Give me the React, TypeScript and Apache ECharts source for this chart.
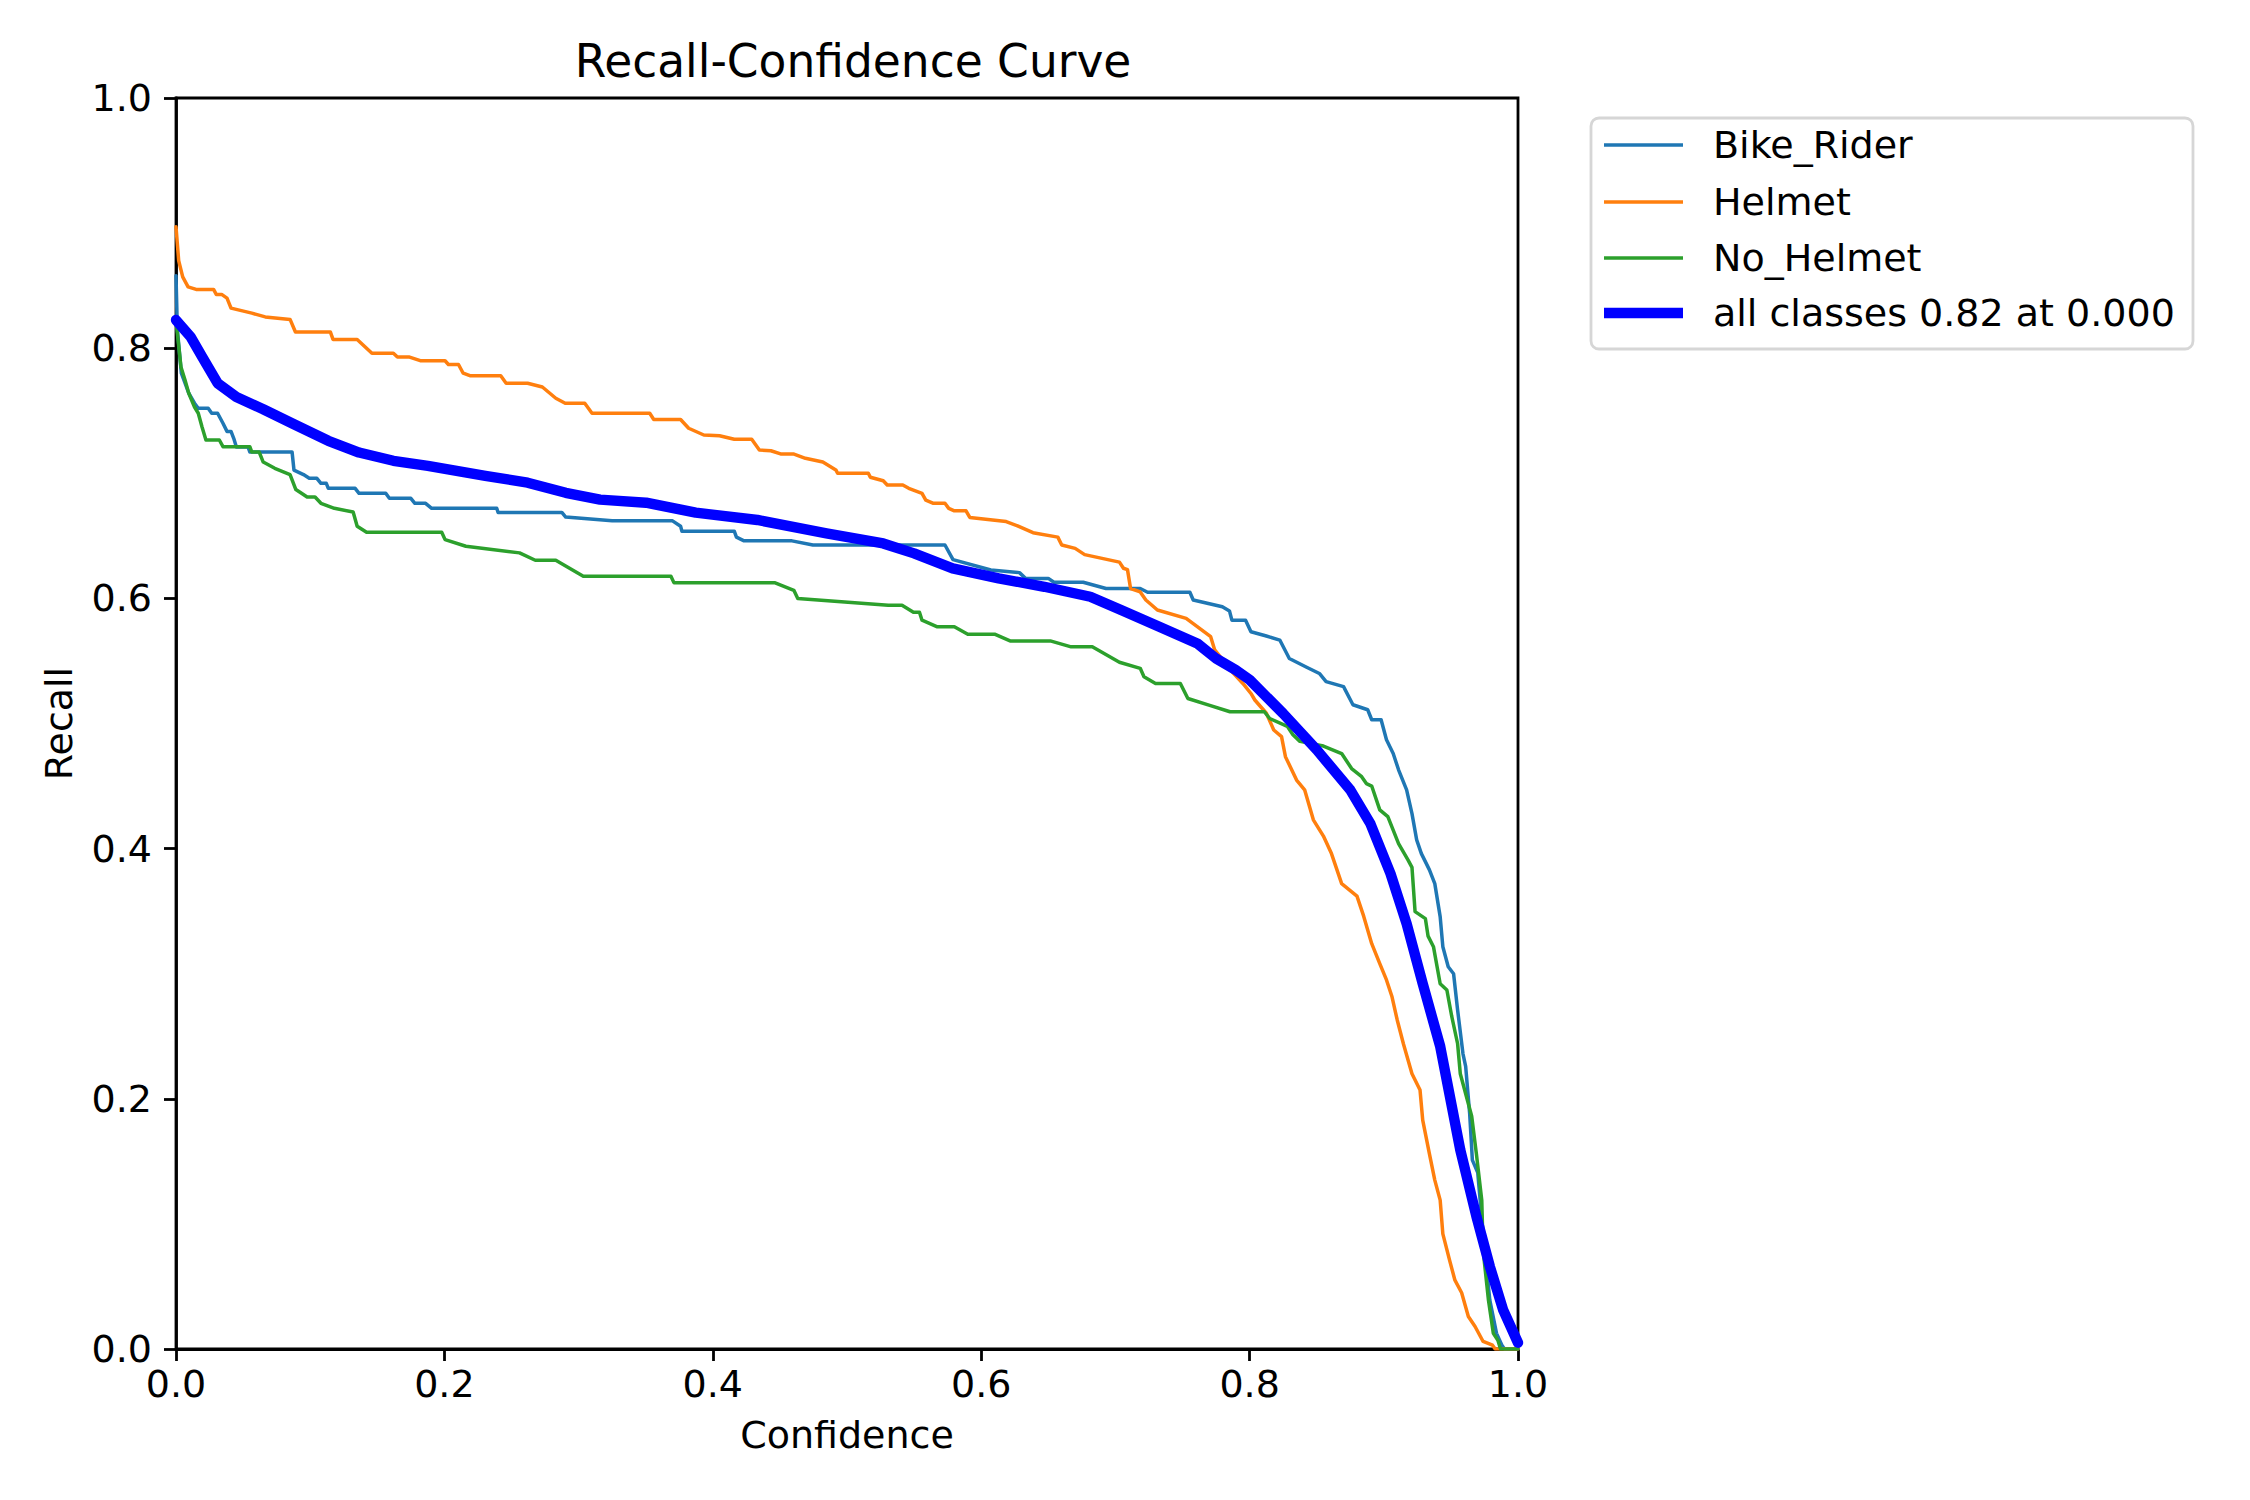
import React, { useEffect, useRef } from "react";
import * as echarts from "echarts";

const classNames = ["Bike_Rider", "Helmet", "No_Helmet", "all classes 0.82 at 0.000"];
const classColors = ["#1f77b4", "#ff7f0e", "#2ca02c", "#0000ff"];
const axisTicks = [0, 0.2, 0.4, 0.6, 0.8, 1.0];

const bikeRiderConf = [0, 0.001, 0.004, 0.0095, 0.0138, 0.0166, 0.024, 0.0266, 0.031, 0.033, 0.035, 0.038, 0.041, 0.043, 0.045, 0.0537, 0.055, 0.0865, 0.0879, 0.095, 0.0993, 0.105, 0.108, 0.112, 0.1135, 0.1335, 0.1364, 0.1563, 0.159, 0.175, 0.178, 0.186, 0.1905, 0.239, 0.24, 0.2875, 0.2904, 0.325, 0.37, 0.376, 0.377, 0.416, 0.4176, 0.4233, 0.459, 0.4746, 0.573, 0.579, 0.6072, 0.6285, 0.633, 0.65, 0.6542, 0.676, 0.693, 0.7185, 0.724, 0.7555, 0.758, 0.7797, 0.785, 0.7868, 0.797, 0.801, 0.8125, 0.8225, 0.8296, 0.8425, 0.852, 0.857, 0.87, 0.877, 0.888, 0.891, 0.898, 0.902, 0.907, 0.911, 0.917, 0.921, 0.9245, 0.928, 0.934, 0.938, 0.942, 0.944, 0.948, 0.952, 0.955, 0.959, 0.961, 0.964, 0.966, 0.97, 0.974, 0.979, 0.984, 0.988, 0.99, 1.0];
const bikeRiderRecall = [0.858, 0.815, 0.78, 0.764, 0.756, 0.752, 0.752, 0.748, 0.748, 0.744, 0.74, 0.7335, 0.7335, 0.728, 0.721, 0.721, 0.717, 0.717, 0.7026, 0.699, 0.696, 0.696, 0.692, 0.692, 0.688, 0.688, 0.684, 0.684, 0.68, 0.68, 0.676, 0.676, 0.672, 0.672, 0.6687, 0.6687, 0.665, 0.662, 0.662, 0.6577, 0.6537, 0.6537, 0.649, 0.646, 0.646, 0.6427, 0.6427, 0.631, 0.6227, 0.6206, 0.616, 0.616, 0.6129, 0.6129, 0.6079, 0.6079, 0.6049, 0.6049, 0.5987, 0.5933, 0.59, 0.5826, 0.5826, 0.5733, 0.5699, 0.5667, 0.552, 0.545, 0.54, 0.5335, 0.5295, 0.515, 0.511, 0.503, 0.503, 0.487, 0.476, 0.463, 0.447, 0.428, 0.407, 0.396, 0.383, 0.372, 0.3456, 0.3216, 0.3056, 0.3, 0.271, 0.236, 0.226, 0.188, 0.151, 0.141, 0.092, 0.039, 0.0125, 0.003, 0, 0];

const helmetConf = [0, 0.002, 0.005, 0.009, 0.015, 0.028, 0.03, 0.034, 0.038, 0.041, 0.0565, 0.0665, 0.085, 0.089, 0.115, 0.117, 0.135, 0.139, 0.146, 0.162, 0.165, 0.1735, 0.182, 0.2005, 0.203, 0.2105, 0.214, 0.219, 0.242, 0.246, 0.262, 0.273, 0.283, 0.29, 0.3046, 0.31, 0.353, 0.356, 0.376, 0.382, 0.3933, 0.405, 0.416, 0.429, 0.4347, 0.4433, 0.4505, 0.46, 0.469, 0.482, 0.4917, 0.493, 0.5159, 0.5174, 0.527, 0.53, 0.5416, 0.546, 0.5559, 0.5587, 0.5644, 0.573, 0.5758, 0.58, 0.5887, 0.5915, 0.6186, 0.6271, 0.6386, 0.6571, 0.66, 0.67, 0.6771, 0.703, 0.706, 0.709, 0.7113, 0.7185, 0.7227, 0.7313, 0.7527, 0.761, 0.771, 0.774, 0.788, 0.795, 0.801, 0.8039, 0.8125, 0.818, 0.8238, 0.8267, 0.835, 0.841, 0.8475, 0.855, 0.861, 0.8686, 0.88, 0.885, 0.891, 0.897, 0.902, 0.906, 0.91, 0.9146, 0.921, 0.927, 0.929, 0.934, 0.938, 0.942, 0.944, 0.949, 0.953, 0.958, 0.963, 0.968, 0.972, 0.974, 0.981, 0.983, 1.0];
const helmetRecall = [0.897, 0.87, 0.857, 0.849, 0.847, 0.847, 0.843, 0.843, 0.84, 0.832, 0.828, 0.825, 0.823, 0.813, 0.813, 0.807, 0.807, 0.803, 0.796, 0.796, 0.793, 0.793, 0.79, 0.79, 0.787, 0.787, 0.78, 0.778, 0.778, 0.772, 0.772, 0.769, 0.76, 0.756, 0.756, 0.748, 0.748, 0.743, 0.743, 0.736, 0.7306, 0.73, 0.7272, 0.7272, 0.7186, 0.718, 0.7155, 0.7155, 0.712, 0.709, 0.7027, 0.7, 0.7, 0.6968, 0.694, 0.6906, 0.6906, 0.688, 0.684, 0.6786, 0.676, 0.676, 0.672, 0.67, 0.67, 0.6647, 0.6614, 0.6579, 0.6525, 0.649, 0.6427, 0.64, 0.635, 0.629, 0.6241, 0.623, 0.6079, 0.6052, 0.5987, 0.5907, 0.584, 0.5774, 0.5694, 0.5588, 0.5401, 0.532, 0.524, 0.5188, 0.5082, 0.4948, 0.4895, 0.4735, 0.4548, 0.447, 0.423, 0.41, 0.396, 0.372, 0.362, 0.346, 0.324, 0.308, 0.295, 0.282, 0.263, 0.244, 0.22, 0.207, 0.183, 0.156, 0.135, 0.119, 0.092, 0.071, 0.055, 0.045, 0.026, 0.018, 0.01, 0.006, 0.003, 0, 0];

const noHelmetConf = [0, 0.0037, 0.0066, 0.0095, 0.0138, 0.0166, 0.0194, 0.0223, 0.0323, 0.035, 0.055, 0.0565, 0.062, 0.065, 0.0736, 0.085, 0.0893, 0.0977, 0.1036, 0.108, 0.118, 0.132, 0.135, 0.142, 0.198, 0.2005, 0.216, 0.256, 0.2677, 0.283, 0.3035, 0.3688, 0.371, 0.446, 0.4604, 0.4633, 0.5307, 0.541, 0.5495, 0.554, 0.5559, 0.5673, 0.58, 0.59, 0.61, 0.6215, 0.6515, 0.667, 0.6828, 0.703, 0.7185, 0.7213, 0.7299, 0.7484, 0.754, 0.7697, 0.7854, 0.811, 0.815, 0.8281, 0.8323, 0.8375, 0.855, 0.8686, 0.876, 0.8835, 0.887, 0.891, 0.897, 0.903, 0.911, 0.918, 0.921, 0.9233, 0.931, 0.933, 0.937, 0.942, 0.947, 0.9506, 0.955, 0.957, 0.9655, 0.969, 0.973, 0.974, 0.978, 0.9816, 0.985, 0.987, 1.0];
const noHelmetRecall = [0.822, 0.785, 0.775, 0.764, 0.753, 0.748, 0.737, 0.7266, 0.7266, 0.7213, 0.7213, 0.717, 0.717, 0.709, 0.704, 0.699, 0.687, 0.681, 0.681, 0.676, 0.672, 0.669, 0.6577, 0.6529, 0.6529, 0.647, 0.6417, 0.6364, 0.6305, 0.6305, 0.6177, 0.6177, 0.6126, 0.6126, 0.6065, 0.6, 0.5946, 0.5946, 0.5889, 0.5889, 0.5826, 0.5773, 0.5773, 0.5714, 0.5714, 0.566, 0.566, 0.5613, 0.5613, 0.549, 0.5441, 0.5374, 0.532, 0.532, 0.52, 0.5147, 0.5094, 0.5094, 0.504, 0.4977, 0.491, 0.4857, 0.482, 0.476, 0.464, 0.4575, 0.452, 0.45, 0.431, 0.4255, 0.404, 0.391, 0.385, 0.3496, 0.344, 0.33, 0.3216, 0.292, 0.287, 0.266, 0.244, 0.22, 0.186, 0.156, 0.119, 0.079, 0.039, 0.0125, 0.007, 0, 0];

const allClassesConf = [0, 0.0109, 0.0194, 0.031, 0.045, 0.065, 0.0879, 0.1135, 0.1364, 0.162, 0.1877, 0.2305, 0.262, 0.2904, 0.316, 0.3503, 0.3873, 0.4333, 0.4847, 0.527, 0.55, 0.5787, 0.613, 0.6471, 0.6813, 0.7042, 0.7327, 0.761, 0.775, 0.7897, 0.8, 0.825, 0.85, 0.875, 0.89, 0.905, 0.917, 0.929, 0.942, 0.957, 0.969, 0.979, 0.989, 1.0];
const allClassesRecall = [0.8225, 0.809, 0.7933, 0.772, 0.761, 0.7512, 0.7392, 0.726, 0.7166, 0.71, 0.706, 0.698, 0.6925, 0.6844, 0.679, 0.6765, 0.6685, 0.6627, 0.6519, 0.6439, 0.636, 0.624, 0.616, 0.6093, 0.6013, 0.5907, 0.5773, 0.564, 0.552, 0.5427, 0.535, 0.508, 0.479, 0.447, 0.42, 0.38, 0.34, 0.292, 0.242, 0.159, 0.106, 0.066, 0.031, 0.005];

const zip = (xs: number[], ys: number[]) => xs.map((x, i) => [x, ys[i]]);

const FONT = "DejaVu Sans";
const LABEL_SIZE = 38;

export default function App() {
  const ref = useRef<HTMLDivElement>(null);
  useEffect(() => {
    const chart = echarts.init(ref.current!, null, { renderer: "svg" });
    const seriesData = [
      zip(bikeRiderConf, bikeRiderRecall),
      zip(helmetConf, helmetRecall),
      zip(noHelmetConf, noHelmetRecall),
      zip(allClassesConf, allClassesRecall),
    ];
    const widths = [3.5, 3.5, 3.5, 10.4];
    const legendRows = [145, 202, 258, 313];
    const axisCommon = {
      type: "value",
      min: 0,
      max: 1,
      interval: 0.2,
      splitLine: { show: false },
      axisLine: { show: true, lineStyle: { color: "#000", width: 2.8 } },
      axisTick: { show: true, inside: false, length: 12, lineStyle: { color: "#000", width: 2.8 } },
      nameLocation: "middle",
      nameTextStyle: { fontSize: LABEL_SIZE, fontFamily: FONT, color: "#000" },
    };
    const tickLabel = (margin: number) => ({
      fontSize: LABEL_SIZE,
      fontFamily: FONT,
      color: "#000",
      margin,
      showMinLabel: true,
      showMaxLabel: true,
      formatter: (v: number) => {
        const hit = axisTicks.find((t) => Math.abs(t - v) < 1e-9);
        return (hit !== undefined ? hit : v).toFixed(1);
      },
    });
    const legendChildren: any[] = [
      {
        type: "rect",
        shape: { x: 1591, y: 118, width: 602, height: 231, r: 8 },
        style: { fill: "#ffffff", stroke: "#d6d6d6", lineWidth: 2.8 },
        z: 10,
      },
    ];
    classNames.forEach((name, i) => {
      legendChildren.push({
        type: "line",
        shape: { x1: 1604, y1: legendRows[i], x2: 1683, y2: legendRows[i] },
        style: { stroke: classColors[i], lineWidth: widths[i] },
        z: 11,
      });
      legendChildren.push({
        type: "text",
        x: 1713,
        y: legendRows[i],
        style: {
          text: name,
          fontSize: LABEL_SIZE,
          fontFamily: FONT,
          fill: "#000",
          verticalAlign: "middle",
          align: "left",
        },
        z: 11,
      });
    });
    chart.setOption({
      animation: false,
      backgroundColor: "#ffffff",
      title: {
        text: "Recall-Confidence Curve",
        left: 848,
        top: 33,
        textAlign: "center",
        textStyle: { fontSize: 45.5, fontWeight: "normal", fontFamily: FONT, color: "#000" },
      },
      grid: {
        show: true,
        left: 176,
        top: 98,
        width: 1342,
        height: 1251,
        borderColor: "#000",
        borderWidth: 2.8,
        backgroundColor: "#fff",
        containLabel: false,
      },
      xAxis: {
        ...axisCommon,
        name: "Confidence",
        nameGap: 67,
        axisLabel: tickLabel(16),
      },
      yAxis: {
        ...axisCommon,
        name: "Recall",
        nameGap: 98,
        axisLabel: tickLabel(24),
      },
      series: seriesData.map((d, i) => ({
        type: "line",
        name: classNames[i],
        data: d,
        showSymbol: false,
        symbol: "none",
        smooth: false,
        clip: true,
        lineStyle: { color: classColors[i], width: widths[i], cap: "round", join: "round" },
        itemStyle: { color: classColors[i] },
        z: 2 + i,
      })),
      graphic: legendChildren,
    });
    return () => chart.dispose();
  }, []);
  return (
    <div
      ref={ref}
      style={{ position: "absolute", left: 0, top: 0, width: 2250, height: 1500, background: "#fff" }}
    />
  );
}
